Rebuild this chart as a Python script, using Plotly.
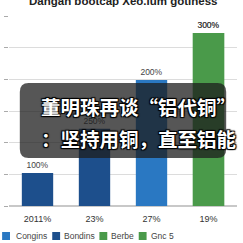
import plotly.graph_objects as go

# ---- data ----
categories = ["2011%", "23%", "27%", "19%"]
values = [52, 122, 199, 273]
bar_labels = ["100%", "250%", "200%", "300%"]
series_names = ["Congins", "Bondins", "Berbe", "Gnc 5"]
series_members = [[2], [0, 1], [3], [3]]  # which categories each series covers
title_text = "Dangan bootcap Xeo.lum gotiness"
caption_lines = ["董明珠再谈“铝代铜”", "：坚持用铜，直至铝能"]

# ---- style ----
series_colors = ["#2a78c2", "#1d4f8c", "#4a9a4a", "#4a9a4a"]
W, H = 243, 243
ML, MR, MT, MB = 5, 6, 16, 37
PW, PH = W - ML - MR, H - MT - MB


def px(x):
    return (x - ML) / PW


def py(y):
    return (H - MB - y) / PH


fig = go.Figure()
for name, members, color in zip(series_names, series_members, series_colors):
    fig.add_trace(go.Bar(
        x=[categories[i] for i in members],
        y=[values[i] for i in members],
        text=[bar_labels[i] for i in members],
        textposition="outside",
        textfont=dict(size=8.5, color="#444"),
        marker=dict(color=color, line=dict(width=0)),
        name=name,
        showlegend=False,
        cliponaxis=False,
    ))

fig.update_layout(
    width=W, height=H,
    margin=dict(l=ML, r=MR, t=MT, b=MB),
    paper_bgcolor="white", plot_bgcolor="white",
    barmode="overlay", bargap=0.45,
    font=dict(family="Liberation Sans, Arial, sans-serif", color="#333"),
    xaxis=dict(categoryorder="array", categoryarray=categories,
               tickfont=dict(size=9, color="#333"), showgrid=False,
               showline=False, ticks="", ticklabelstandoff=6),
    yaxis=dict(range=[0, 300], dtick=50, showticklabels=False,
               gridcolor="#dcdcdc", gridwidth=1, zeroline=True,
               zerolinecolor="#c8c8c8", ticks="outside", ticklen=4,
               tickcolor="#aaa"),
)

# title (partly cut off at top)
fig.add_annotation(text="<b>" + title_text + "</b>", xref="paper", yref="paper",
                   x=px(121), y=py(1), xanchor="center", yanchor="middle",
                   showarrow=False,
                   font=dict(size=11.5, color="#222"))

# manual legend
legend_items = [(-2, 10), (49, 59), (97, 107), (137, 147)]
for (sx, tx), name, color in zip(legend_items, series_names, series_colors):
    fig.add_shape(type="rect", xref="paper", yref="paper",
                  x0=px(sx), x1=px(sx + 8), y0=py(232), y1=py(240),
                  fillcolor=color, line=dict(width=0))
    fig.add_annotation(text=name, xref="paper", yref="paper",
                       x=px(tx), y=py(236), xanchor="left", yanchor="middle",
                       showarrow=False, font=dict(size=8.5, color="#444"))

# caption overlay box (rounded)
x0, x1, y0, y1, r = 16, 226, 83, 158, 9
rx, ry = r / PW, r / PH
X0, X1, Y0, Y1 = px(x0), px(x1), py(y1), py(y0)
path = (f"M {X0+rx},{Y0} L {X1-rx},{Y0} Q {X1},{Y0} {X1},{Y0+ry} "
        f"L {X1},{Y1-ry} Q {X1},{Y1} {X1-rx},{Y1} L {X0+rx},{Y1} "
        f"Q {X0},{Y1} {X0},{Y1-ry} L {X0},{Y0+ry} Q {X0},{Y0} {X0+rx},{Y0} Z")
fig.add_shape(type="path", path=path, xref="paper", yref="paper",
              fillcolor="rgba(30,30,30,0.75)", line=dict(width=0), layer="above")

shadow = "1px 1px 1px #000, -1px -1px 1px #000, 1px -1px 1px #000, -1px 1px 1px #000"
for line, yy in zip(caption_lines, [106, 138]):
    fig.add_annotation(text=line, xref="paper", yref="paper",
                       x=px(36), y=py(yy), xanchor="left", yanchor="middle",
                       showarrow=False,
                       font=dict(size=19.5, color="white", weight="bold",
                                 family="Noto Sans CJK SC", shadow=shadow))

fig.write_html("out.html")
